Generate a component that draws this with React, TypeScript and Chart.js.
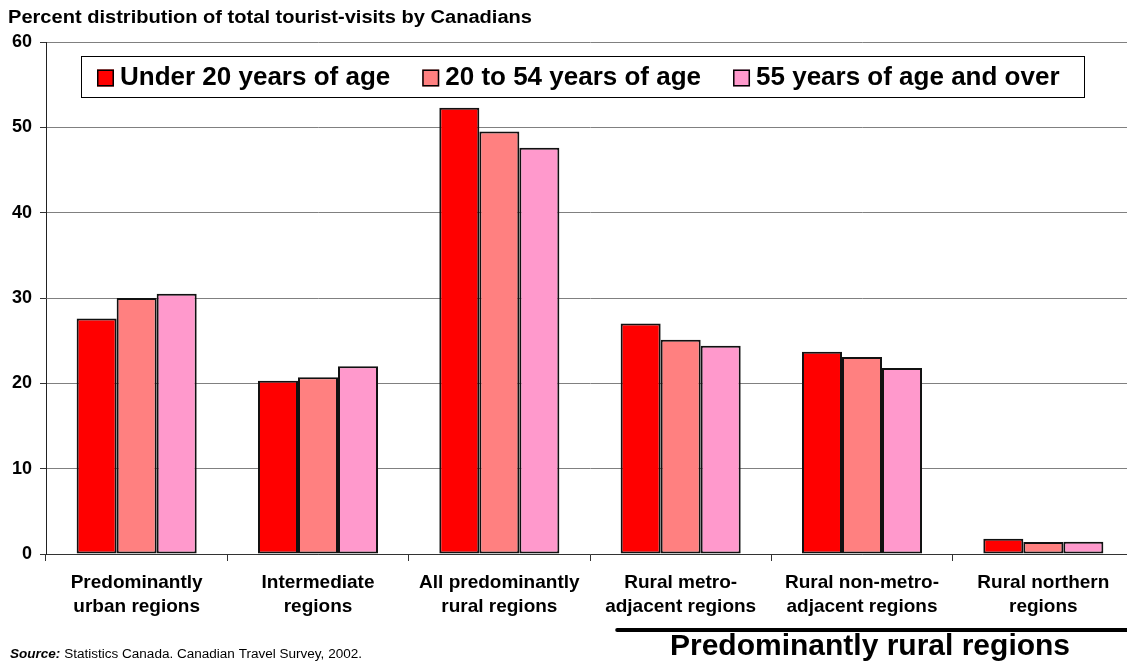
import React, { useEffect, useRef } from "react";
import { Chart, registerables } from "chart.js";

Chart.register(...registerables);

// Region categories (two-line axis labels)
const categories: string[][] = [
  ["Predominantly", "urban regions"],
  ["Intermediate", "regions"],
  ["All predominantly", "rural regions"],
  ["Rural metro-", "adjacent regions"],
  ["Rural non-metro-", "adjacent regions"],
  ["Rural northern", "regions"],
];

const seriesNames = ["Under 20 years of age", "20 to 54 years of age", "55 years of age and over"];
const under20 = [27.6, 20.3, 52.3, 27.0, 23.7, 1.8];
const age20to54 = [30.0, 20.7, 49.5, 25.1, 23.1, 1.4];
const age55plus = [30.5, 22.0, 47.6, 24.4, 21.8, 1.45];
const seriesColors = ["#FF0000", "#FF8080", "#FF99CC"];

const yMin = 0;
const yMax = 60;
const yStep = 10;

const titleText = "Percent distribution of total tourist-visits by Canadians";
const groupLabel = "Predominantly rural regions";
const sourceLead = "Source:";
const sourceText = " Statistics Canada. Canadian Travel Survey, 2002.";

const FONT = "'Liberation Sans', Arial, Helvetica, sans-serif";

// Draws text stretched horizontally so it spans the given width
function fillStretched(ctx: CanvasRenderingContext2D, text: string, x: number, y: number, width: number) {
  const w = ctx.measureText(text).width;
  ctx.save();
  ctx.translate(x, y);
  ctx.scale(width / w, 1);
  ctx.fillText(text, 0, 0);
  ctx.restore();
}

// Draws the title, in-plot legend box, group underline and source note
const annotations = {
  id: "annotations",
  afterDraw(chart: any) {
    const ctx: CanvasRenderingContext2D = chart.ctx;
    const area = chart.chartArea;
    const catW = (area.right - area.left) / categories.length;
    ctx.save();

    // Title
    ctx.fillStyle = "#000";
    ctx.textBaseline = "middle";
    ctx.textAlign = "left";
    ctx.font = `bold 18px ${FONT}`;
    fillStretched(ctx, titleText, 8, 18, 524);

    // Legend box
    const boxL = 81, boxT = 56, boxR = 1084, boxB = 97;
    ctx.fillStyle = "#fff";
    ctx.fillRect(boxL, boxT, boxR - boxL, boxB - boxT);
    ctx.strokeStyle = "#000";
    ctx.lineWidth = 1;
    ctx.strokeRect(boxL + 0.5, boxT + 0.5, boxR - boxL, boxB - boxT);

    ctx.font = `bold 26px ${FONT}`;
    let x = 97;
    const sq = 17;
    const cy = 78;
    seriesNames.forEach((name, i) => {
      ctx.fillStyle = seriesColors[i];
      ctx.fillRect(x, cy - sq / 2, sq, sq);
      ctx.strokeStyle = "#000";
      ctx.lineWidth = 1.5;
      ctx.strokeRect(x + 0.75, cy - sq / 2 + 0.75, sq - 1.5, sq - 1.5);
      ctx.fillStyle = "#000";
      ctx.textBaseline = "middle";
      ctx.fillText(name, x + sq + 6, cy);
      x += sq + 6 + ctx.measureText(name).width + 32;
    });

    // Group underline for the rural sub-regions
    const lineStart = area.left + 3 * catW + 0.15 * catW;
    ctx.strokeStyle = "#000";
    ctx.lineWidth = 4;
    ctx.lineCap = "round";
    ctx.beginPath();
    ctx.moveTo(lineStart, 630);
    ctx.lineTo(chart.width + 4, 630);
    ctx.stroke();

    ctx.font = `bold 30px ${FONT}`;
    ctx.textAlign = "center";
    ctx.textBaseline = "middle";
    ctx.fillText(groupLabel, area.left + 4.5 * catW + 8, 647);

    // Source note
    ctx.textAlign = "left";
    ctx.font = `italic bold 12px ${FONT}`;
    const leadW = ctx.measureText(sourceLead).width;
    ctx.font = `12px ${FONT}`;
    const restW = ctx.measureText(sourceText).width;
    const k = 352 / (leadW + restW);
    ctx.font = `italic bold 12px ${FONT}`;
    fillStretched(ctx, sourceLead, 10, 655, leadW * k);
    ctx.font = `12px ${FONT}`;
    fillStretched(ctx, sourceText, 10 + leadW * k, 655, restW * k);

    ctx.restore();
  },
};

export default function App() {
  const canvasRef = useRef<HTMLCanvasElement | null>(null);

  useEffect(() => {
    if (!canvasRef.current) return;
    const datasets = [under20, age20to54, age55plus].map((values, i) => ({
      label: seriesNames[i],
      data: values,
      backgroundColor: seriesColors[i],
      borderColor: "#111",
      borderWidth: 2,
      borderSkipped: false as const,
      barPercentage: 1,
      categoryPercentage: 0.662,
    }));

    const chart = new Chart(canvasRef.current, {
      type: "bar",
      data: { labels: categories, datasets },
      options: {
        animation: false,
        responsive: false,
        devicePixelRatio: 1,
        layout: { padding: { top: 42, right: 1, bottom: 0, left: 0 } },
        plugins: {
          legend: { display: false },
          title: { display: false },
          tooltip: { enabled: false },
        },
        scales: {
          x: {
            offset: true,
            grid: {
              offset: true,
              drawOnChartArea: false,
              drawTicks: true,
              tickLength: 7,
              color: "#333",
            },
            border: { display: true, color: "#333", width: 1 },
            ticks: {
              color: "#000",
              padding: 10,
              maxRotation: 0,
              autoSkip: false,
              font: { family: FONT, size: 19, weight: "bold", lineHeight: "24px" },
            },
            afterFit(scale: any) {
              scale.height = 109;
            },
          },
          y: {
            min: yMin,
            max: yMax,
            ticks: {
              stepSize: yStep,
              color: "#000",
              padding: 8,
              font: { family: FONT, size: 18, weight: "bold" },
            },
            grid: {
              color: "#808080",
              lineWidth: 1,
              tickLength: 6,
              tickColor: "#333",
            },
            border: { display: true, color: "#222", width: 1 },
            afterFit(scale: any) {
              scale.width = 46;
            },
          },
        },
      },
      plugins: [annotations],
    });

    return () => chart.destroy();
  }, []);

  return (
    <div
      style={{
        position: "fixed",
        left: 0,
        top: 0,
        width: 1127,
        height: 663,
        overflow: "hidden",
        background: "#fff",
      }}
    >
      <canvas ref={canvasRef} width={1135} height={663} style={{ display: "block" }} />
    </div>
  );
}
